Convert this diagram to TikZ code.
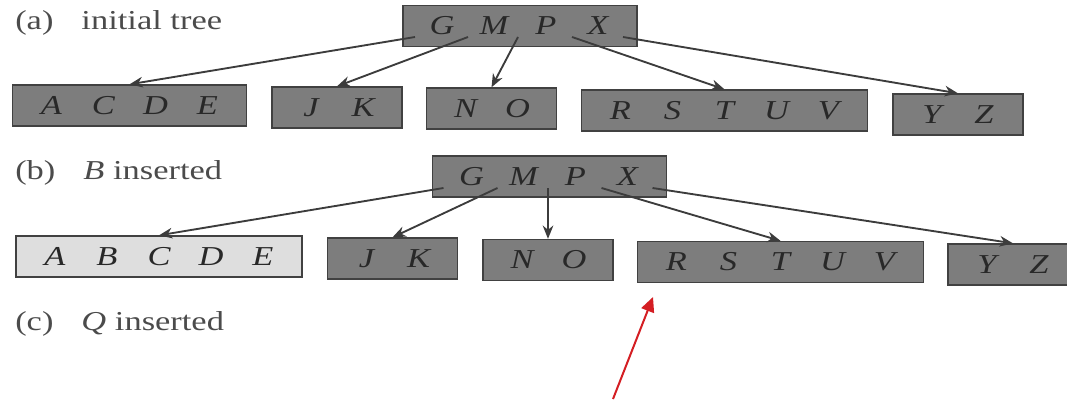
\documentclass[tikz,border=0pt]{standalone}
\usepackage{fontspec}
\setmainfont{Liberation Serif}[FakeStretch=1.26]
\usepackage{tikz}
\usetikzlibrary{arrows.meta}

\definecolor{nodegray}{RGB}{125,125,125}
\definecolor{lightnode}{RGB}{222,222,222}
\definecolor{boxedge}{RGB}{65,65,65}
\definecolor{edgegray}{RGB}{60,60,60}
\definecolor{inkgray}{RGB}{40,40,40}
\definecolor{labelgray}{RGB}{75,75,75}
\definecolor{markred}{RGB}{212,30,35}

\newcommand{\keyslot}[1]{\makebox[39pt]{\itshape #1}}

\tikzset{
  btnode/.style={draw=boxedge, fill=nodegray, line width=1pt,
    inner xsep=9.75pt, inner ysep=0pt, minimum height=30.75pt,
    text height=13.4pt, text depth=0pt, text=inkgray,
    font=\fontsize{20.5}{24}\selectfont},
  newnode/.style={btnode, fill=lightnode},
  ptr/.style={draw=edgegray, line width=1.4pt, -{Stealth[length=10pt,width=8pt]}},
  caption/.style={anchor=base west, inner sep=0pt, text=labelgray,
    font=\fontsize{20.5}{24}\selectfont}
}

\begin{document}
\begin{tikzpicture}[x=0.75pt,y=-0.75pt]
  \useasboundingbox (0,0) rectangle (1067,403);

  % (a) initial tree
  \node[caption] (capa) at (15,30) {(a)\hspace{21pt}initial tree};
  \node[btnode] (ra) at (520,26) {\keyslot{G}\keyslot{M}\keyslot{P}\keyslot{X}};
  \node[btnode] (a-acde) at (129.5,105.5) {\keyslot{A}\keyslot{C}\keyslot{D}\keyslot{E}};
  \node[btnode] (a-jk) at (337,107.5) {\keyslot{J}\keyslot{K}};
  \node[btnode] (a-no) at (491.5,108.5) {\keyslot{N}\keyslot{O}};
  \node[btnode] (a-rstuv) at (724.5,110.5) {\keyslot{R}\keyslot{S}\keyslot{T}\keyslot{U}\keyslot{V}};
  \node[btnode] (a-yz) at (958,114.5) {\keyslot{Y}\keyslot{Z}};
  \coordinate (ra-p0) at ([shift={(-105,11)}]ra.center);
  \coordinate (ra-p1) at ([shift={(-52,11)}]ra.center);
  \coordinate (ra-p2) at ([shift={(-2,11)}]ra.center);
  \coordinate (ra-p3) at ([shift={(52,11)}]ra.center);
  \coordinate (ra-p4) at ([shift={(103,11)}]ra.center);
  \draw[ptr] (ra-p0) -- (a-acde.north);
  \draw[ptr] (ra-p1) -- (a-jk.north);
  \draw[ptr] (ra-p2) -- (a-no.north);
  \draw[ptr] (ra-p3) -- (a-rstuv.north);
  \draw[ptr] (ra-p4) -- (a-yz.north);

  % (b) B inserted
  \node[caption] (capb) at (15,179) {(b)\hspace{21pt}\textit{B} inserted};
  \node[btnode] (rb) at (549.5,176.5) {\keyslot{G}\keyslot{M}\keyslot{P}\keyslot{X}};
  \node[newnode] (b-abcde) at (159,256.5) {\keyslot{A}\keyslot{B}\keyslot{C}\keyslot{D}\keyslot{E}};
  \node[btnode] (b-jk) at (392.5,258.5) {\keyslot{J}\keyslot{K}};
  \node[btnode] (b-no) at (548,260) {\keyslot{N}\keyslot{O}};
  \node[btnode] (b-rstuv) at (780.5,262) {\keyslot{R}\keyslot{S}\keyslot{T}\keyslot{U}\keyslot{V}};
  \node[btnode] (b-yz) at (1013,264.5) {\keyslot{Y}\keyslot{Z}};
  \coordinate (rb-p0) at ([shift={(-106,11.5)}]rb.center);
  \coordinate (rb-p1) at ([shift={(-52,11.5)}]rb.center);
  \coordinate (rb-p2) at ([shift={(-1.5,11.5)}]rb.center);
  \coordinate (rb-p3) at ([shift={(52,11.5)}]rb.center);
  \coordinate (rb-p4) at ([shift={(103,11.5)}]rb.center);
  \draw[ptr] (rb-p0) -- (b-abcde.north);
  \draw[ptr] (rb-p1) -- (b-jk.north);
  \draw[ptr, line width=0.9pt] (rb-p2) -- (b-no.north);
  \draw[ptr] (rb-p3) -- (b-rstuv.north);
  \draw[ptr] (rb-p4) -- (b-yz.north);

  % (c) Q inserted
  \node[caption] (capc) at (15,330) {(c)\hspace{21pt}\textit{Q} inserted};

  % red marker
  \coordinate (mark-tail) at (613,399);
  \coordinate (mark-tip) at (653,297);
  \draw[markred, line width=1.5pt, -{Triangle[length=11pt,width=10pt]}] (mark-tail) -- (mark-tip);
\end{tikzpicture}
\end{document}
